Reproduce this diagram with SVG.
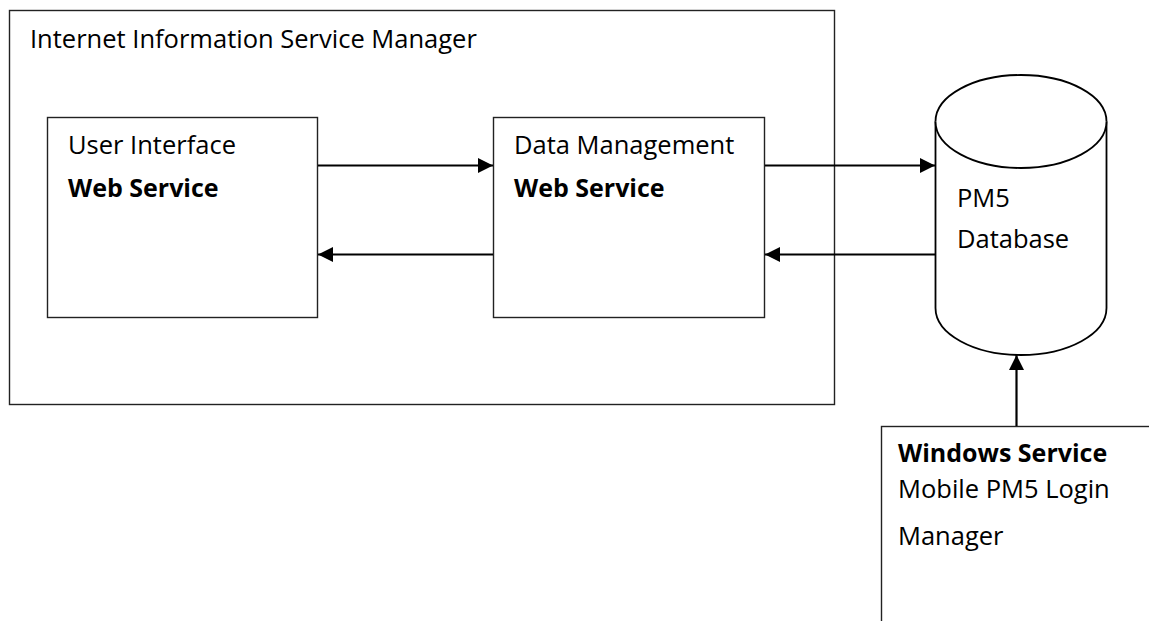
<svg xmlns="http://www.w3.org/2000/svg" width="1149" height="621" viewBox="0 0 1149 621">
<style>
.box{fill:#fff;stroke:#222;stroke-width:1.4}
.t{font-family:"Open Sans","Noto Sans",sans-serif;font-size:25.5px;fill:#000}
.b{font-weight:bold;font-size:25px}
.ln{stroke:#000;stroke-width:2.2;fill:none}
.cyl{fill:#fff;stroke:#000;stroke-width:1.8}
</style>
<defs>
<marker id="ah" markerUnits="userSpaceOnUse" markerWidth="16" markerHeight="16" viewBox="0 0 16 16" refX="15" refY="8" orient="auto">
<path d="M0,0.5 L15,8 L0,15.5 Z" fill="#000"/>
</marker>
</defs>
<rect width="1149" height="621" fill="#fff"/>
<g id="iis">
<rect class="box" x="9.5" y="10.5" width="825" height="394"/>
<text class="t" x="30" y="48">Internet Information Service Manager</text>
</g>
<g id="ui">
<rect class="box" x="47.5" y="117.5" width="270" height="200"/>
<text class="t" x="68" y="154">User Interface</text>
<text class="t b" x="68" y="197">Web Service</text>
</g>
<g id="dm">
<rect class="box" x="493.5" y="117.5" width="271" height="200"/>
<text class="t" x="514" y="154">Data Management</text>
<text class="t b" x="514" y="197">Web Service</text>
</g>
<g id="db">
<path class="cyl" d="M935.5,121.5 V308 A85.5,47 0 0 0 1106.5,308 V121.5 A85.5,46.5 0 0 0 935.5,121.5 Z"/>
<path class="cyl" d="M935.5,121.5 A85.5,46.5 0 0 0 1106.5,121.5"/>
<text class="t" x="957" y="207">PM5</text>
<text class="t" x="957" y="248">Database</text>
</g>
<g id="ws">
<rect class="box" x="881.5" y="426.5" width="280" height="210"/>
<text class="t b" x="898" y="462">Windows Service</text>
<text class="t" x="898" y="498">Mobile PM5 Login</text>
<text class="t" x="898" y="545">Manager</text>
</g>
<g id="connectors">
<line class="ln" x1="318" y1="165.5" x2="493" y2="165.5" marker-end="url(#ah)"/>
<line class="ln" x1="493" y1="254.5" x2="318" y2="254.5" marker-end="url(#ah)"/>
<line class="ln" x1="765" y1="165.5" x2="935" y2="165.5" marker-end="url(#ah)"/>
<line class="ln" x1="935" y1="254.5" x2="765" y2="254.5" marker-end="url(#ah)"/>
<line class="ln" x1="1016.5" y1="426" x2="1016.5" y2="355" marker-end="url(#ah)"/>
</g>
</svg>
